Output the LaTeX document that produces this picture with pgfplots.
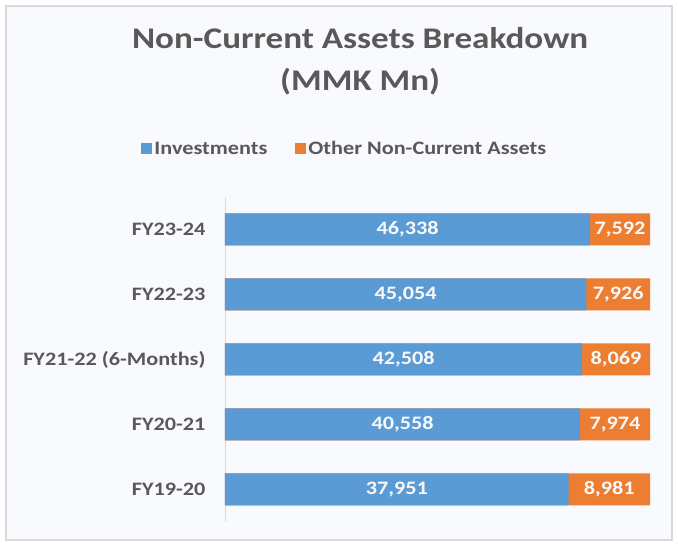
\documentclass[border=0pt]{standalone}
\usepackage{pgfplots}
\usepackage{pgfplotstable}
\pgfplotsset{compat=1.18}
\usepackage{fontspec}
\setmainfont{Carlito}[FakeStretch=1.17]
\definecolor{blueC}{HTML}{5B9BD5}
\definecolor{orangeC}{HTML}{ED7D31}
\definecolor{txtC}{HTML}{595959}
\definecolor{bgC}{HTML}{F8FAFD}
\definecolor{frameC}{HTML}{D9D9D9}

\pgfplotstableread{
idx label inv oth
0 FY19-20 37951 8981
1 FY20-21 40558 7974
2 FY21-22 42508 8069
3 FY22-23 45054 7926
4 FY23-24 46338 7592
}\data
\pgfplotstablecreatecol[expr={\thisrow{inv}/(\thisrow{inv}+\thisrow{oth})*100}]{invp}{\data}
\pgfplotstablecreatecol[expr={\thisrow{invp}/2}]{invmid}{\data}
\pgfplotstablecreatecol[expr={(\thisrow{invp}+100)/2}]{othmid}{\data}

\begin{document}
\begin{tikzpicture}[x=1pt,y=1pt]
\path[use as bounding box] (0,0) rectangle (678,546);
\fill[white] (0,0) rectangle (678,546);
\filldraw[fill=bgC, draw=frameC, line width=1.2pt] (6,6) rectangle (672,540);
\begin{axis}[
  at={(225pt,24pt)}, anchor=south west,
  scale only axis, width=425pt, height=325pt,
  xmin=0, xmax=100, ymin=-0.5, ymax=4.5,
  axis x line=none,
  axis y line*=left,
  y axis line style={draw=frameC, line width=0.8pt},
  ytick={0,1,2,3,4},
  yticklabels={FY19-20,FY20-21,FY21-22 (6-Months),FY22-23,FY23-24},
  major tick length=0pt,
  yticklabel style={font=\fontsize{19}{22}\selectfont\bfseries, text=txtC, xshift=-16pt},
  bar width=32pt,
  title={Non-Current Assets Breakdown\\(MMK Mn)},
  title style={at={(0.318,1.40)}, anchor=center, align=center, text=txtC,
    font=\fontsize{30}{42}\selectfont\bfseries},
  legend columns=2,
  legend style={at={(0.282,1.148)}, anchor=center, draw=none, fill=none,
    font=\fontsize{19}{22}\selectfont\bfseries, text=txtC,
    /tikz/every even column/.append style={column sep=26pt}},
  legend image code/.code={\fill[#1] (0pt,-5.5pt) rectangle (11pt,6pt);},
  legend entries={Investments, Other Non-Current Assets},
  /pgf/number format/assume math mode=true,
  nodes near coords style={font=\fontsize{19}{22}\selectfont\bfseries, text=white!95!gray, anchor=center},
]
\addlegendimage{fill=blueC, draw=none}
\addlegendimage{fill=orangeC, draw=none}
\addplot[xbar, fill=orangeC, draw=none, forget plot] table[x expr=100, y=idx] {\data};
\addplot[xbar, fill=blueC, draw=none, forget plot] table[x=invp, y=idx] {\data};
\addplot[draw=none, mark=none, forget plot, point meta=explicit,
  nodes near coords={\pgfmathprintnumber[fixed,precision=0,1000 sep={,},assume math mode=true]{\pgfplotspointmeta}}]
  table[x=invmid, y=idx, meta=inv] {\data};
\addplot[draw=none, mark=none, forget plot, point meta=explicit,
  nodes near coords={\pgfmathprintnumber[fixed,precision=0,1000 sep={,},assume math mode=true]{\pgfplotspointmeta}}]
  table[x=othmid, y=idx, meta=oth] {\data};
\end{axis}
\end{tikzpicture}
\end{document}
